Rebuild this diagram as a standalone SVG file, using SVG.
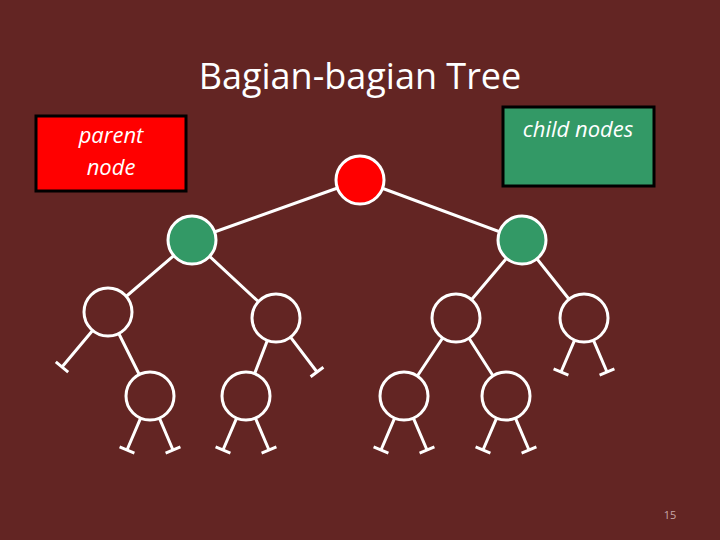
<svg xmlns="http://www.w3.org/2000/svg" xmlns:xlink="http://www.w3.org/1999/xlink" width="720" height="540" viewBox="0 0 720 540">
<style>
.e{stroke:#fff;stroke-width:3;fill:none}
.n{stroke:#fff;stroke-width:3;fill:#632523}
.t{font-family:"Open Sans","Liberation Sans",sans-serif;fill:#fff}
</style>
<defs>
<g id="pair" class="e">
<path d="M-9.4,22.1L-23,54M-30.4,50.9L-15.6,57.1M9.4,22.1L23,54M30.4,50.9L15.6,57.1"/>
</g>
</defs>
<rect width="720" height="540" fill="#632523"/>
<text class="t" x="360" y="89" font-size="36" text-anchor="middle">Bagian-bagian Tree</text>
<g id="legend-parent">
<rect x="36" y="116" width="150" height="75" fill="#ff0000" stroke="#000" stroke-width="3"/>
<text class="t" x="111" y="143" font-size="22" font-style="italic" text-anchor="middle">parent</text>
<text class="t" x="111" y="175" font-size="22" font-style="italic" text-anchor="middle">node</text>
</g>
<g id="legend-child">
<rect x="503" y="107" width="151" height="79" fill="#339966" stroke="#000" stroke-width="3"/>
<text class="t" x="578" y="137" font-size="22" font-style="italic" text-anchor="middle">child nodes</text>
</g>
<g id="connectors" class="e">
<path d="M360,180L192,240M360,180L522,240M192,240L108,312M192,240L276,318M108,312L150,396M276,318L246,396M522,240L456,318M522,240L584,318M456,318L404,396M456,318L506,396"/>
<path d="M92.6,330.5L62,367M55.8,361.9L68.2,372.1M290.5,337.1L317,372M310.6,376.8L323.4,367.2"/>
<use href="#pair" x="150" y="396"/>
<use href="#pair" x="246" y="396"/>
<use href="#pair" x="404" y="396"/>
<use href="#pair" x="506" y="396"/>
<use href="#pair" x="584" y="318"/>
</g>
<g id="root"><circle class="n" cx="360" cy="180" r="24" fill="#ff0000" style="fill:#ff0000"/></g>
<g id="gl"><circle class="n" cx="192" cy="240" r="24" style="fill:#339966"/></g>
<g id="gr"><circle class="n" cx="522" cy="240" r="24" style="fill:#339966"/></g>
<g id="a"><circle class="n" cx="108" cy="312" r="24"/></g>
<g id="b"><circle class="n" cx="276" cy="318" r="24"/></g>
<g id="c"><circle class="n" cx="150" cy="396" r="24"/></g>
<g id="d"><circle class="n" cx="246" cy="396" r="24"/></g>
<g id="e"><circle class="n" cx="456" cy="318" r="24"/></g>
<g id="f"><circle class="n" cx="584" cy="318" r="24"/></g>
<g id="g"><circle class="n" cx="404" cy="396" r="24"/></g>
<g id="h"><circle class="n" cx="506" cy="396" r="24"/></g>
<text x="670" y="519" font-size="11" text-anchor="middle" font-family="Open Sans, sans-serif" fill="#c8a8a8">15</text>
</svg>
